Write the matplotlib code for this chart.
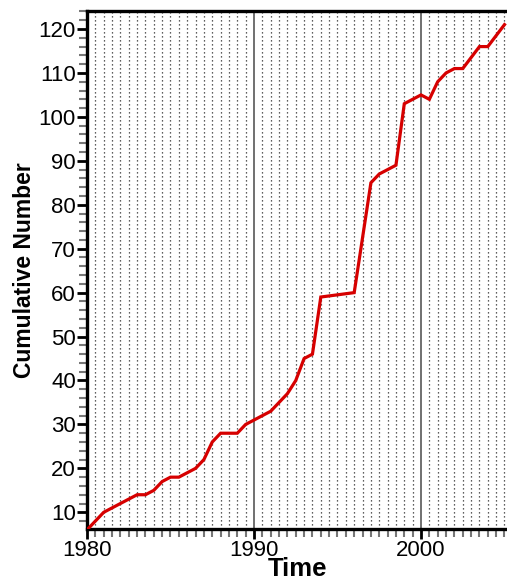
import numpy as np
import matplotlib
matplotlib.use('Agg')
import matplotlib.pyplot as plt
from matplotlib.ticker import MultipleLocator

plt.rcParams['font.family'] = ['Liberation Sans', 'DejaVu Sans']

# cumulative number vs time
years = [1980, 1981, 1982, 1983, 1983.5, 1984, 1984.5, 1985, 1985.5, 1986,
         1986.5, 1987, 1987.5, 1988, 1989, 1989.5, 1990, 1991, 1992, 1992.5,
         1993, 1993.5, 1994, 1996, 1997, 1997.5, 1998, 1998.5, 1999, 2000,
         2000.5, 2001, 2001.5, 2002, 2002.5, 2003.5, 2004, 2005]
cumulative = [6, 10, 12, 14, 14, 15, 17, 18, 18, 19,
              20, 22, 26, 28, 28, 30, 31, 33, 37, 40,
              45, 46, 59, 60, 85, 87, 88, 89, 103, 105,
              104, 108, 110, 111, 111, 116, 116, 121]

x_ticks = [1980, 1990, 2000]
y_ticks = [10, 20, 30, 40, 50, 60, 70, 80, 90, 100, 110, 120]

fig = plt.figure(figsize=(5.07, 5.81), dpi=100)
ax = fig.add_axes([87 / 507, 52 / 581, 420 / 507, 518 / 581])

ax.set_xlim(1980, 2005.15)
ax.set_ylim(6.2, 124.1)

# dotted half-year grid plus solid decade lines
ax.xaxis.set_minor_locator(MultipleLocator(0.5))
ax.yaxis.set_minor_locator(MultipleLocator(2))
ax.grid(True, axis='x', which='minor', linestyle=(0, (1, 2.2)), color='#2a2a2a', linewidth=0.9)
ax.grid(True, axis='x', which='major', linestyle='-', color='#707070', linewidth=1.4)
ax.set_axisbelow(True)

ax.plot(years, cumulative, color='#d60000', linewidth=2.3, solid_joinstyle='miter', zorder=3)

ax.set_xticks(x_ticks)
ax.set_yticks(y_ticks)
ax.tick_params(axis='both', which='major', direction='out', length=7, width=2,
               color='black', labelsize=16, pad=1)
ax.tick_params(axis='both', which='minor', direction='out', length=6, width=1.5,
               color='#777777')

for side in ['left', 'bottom', 'top']:
    ax.spines[side].set_linewidth(2.4)
    ax.spines[side].set_color('black')
ax.spines['right'].set_visible(False)

ax.set_xlabel('Time', fontsize=18.5, fontweight='bold', labelpad=-3)
ax.set_ylabel('Cumulative Number', fontsize=16.5, fontweight='bold', labelpad=2)

fig.savefig('out.png', dpi=100)
plt.close()
